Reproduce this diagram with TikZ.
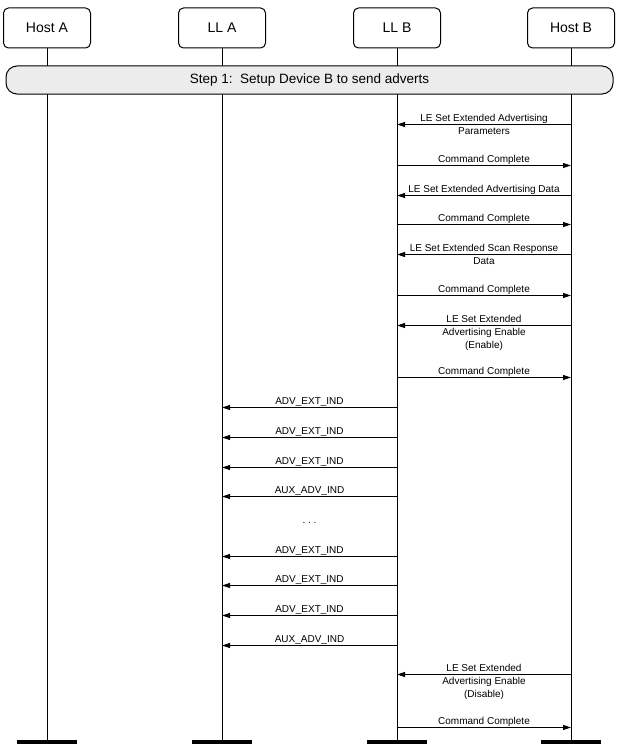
\documentclass[tikz,border=0pt]{standalone}
\usepackage{fontspec}
\setmainfont{Liberation Sans}
\usetikzlibrary{arrows.meta}
\begin{document}
\begin{tikzpicture}[x=1pt,y=-1pt,
  actor/.style={draw, line width=1pt, rounded corners=5pt, minimum width=87pt, minimum height=40pt, inner sep=0pt, font=\fontsize{14}{16}\selectfont},
  life/.style={line width=1pt},
  endbar/.style={line width=4pt},
  stepbox/.style={draw, line width=1pt, fill=gray!15, rounded corners=11pt, minimum width=607pt, minimum height=28pt, inner sep=0pt, font=\fontsize{13.5}{16}\selectfont},
  msg/.style={line width=1pt, -{Triangle[length=8pt,width=5pt]}},
  lbl/.style={font=\fontsize{10}{12.8}\selectfont, align=center, inner sep=0pt, anchor=north, yshift=10.8pt}]
\useasboundingbox (0,0) rectangle (619,752);
% actors
\node[actor] (ha) at (47,28) {Host A};
\node[actor] (lla) at (222,28) {LL A};
\node[actor] (llb) at (397,28) {LL B};
\node[actor] (hb) at (571,28) {Host B};
% lifeline ends
\coordinate (haE) at (47,742);
\coordinate (llaE) at (222,742);
\coordinate (llbE) at (397,742);
\coordinate (hbE) at (571,742);
\foreach \n in {ha,lla,llb,hb}{
  \draw[life] (\n.south) -- (\n E);
  \draw[endbar] ([xshift=-30pt]\n E) -- ([xshift=30pt]\n E);
}
% step box
\node[stepbox] (step) at (309.5,80) {Step 1:\ \ Setup Device B to send adverts};
% messages
\newcommand\toLLB[3]{%
  \coordinate (#1s) at (571,#2);
  \coordinate (#1t) at (397,#2);
  \draw[msg] (#1s) -- (#1t) node[lbl, midway] {#3};}
\newcommand\toHB[3]{%
  \coordinate (#1s) at (397,#2);
  \coordinate (#1t) at (571,#2);
  \draw[msg] (#1s) -- (#1t) node[lbl, midway] {#3};}
\newcommand\toLLA[3]{%
  \coordinate (#1s) at (397,#2);
  \coordinate (#1t) at (222,#2);
  \draw[msg] (#1s) -- (#1t) node[lbl, midway] {#3};}
\toLLB{m1}{124.5}{LE Set Extended Advertising\\Parameters}
\toHB{m2}{165.5}{Command Complete}
\toLLB{m3}{195.5}{LE Set Extended Advertising Data}
\toHB{m4}{224.5}{Command Complete}
\toLLB{m5}{254.5}{LE Set Extended Scan Response\\Data}
\toHB{m6}{295.5}{Command Complete}
\toLLB{m7}{325.5}{LE Set Extended\\Advertising Enable\\(Enable)}
\toHB{m8}{377.5}{Command Complete}
\toLLA{m9}{407.5}{ADV\_EXT\_IND}
\toLLA{m10}{437.5}{ADV\_EXT\_IND}
\toLLA{m11}{467.5}{ADV\_EXT\_IND}
\toLLA{m12}{496.5}{AUX\_ADV\_IND}
\node[font=\fontsize{10}{12}\selectfont, inner sep=0pt, anchor=base] (dots) at (309.5,523.5) {.\ .\ .};
\toLLA{m13}{556.5}{ADV\_EXT\_IND}
\toLLA{m14}{585.5}{ADV\_EXT\_IND}
\toLLA{m15}{615.5}{ADV\_EXT\_IND}
\toLLA{m16}{645.5}{AUX\_ADV\_IND}
\toLLB{m17}{674.5}{LE Set Extended\\Advertising Enable\\(Disable)}
\toHB{m18}{727.5}{Command Complete}
\end{tikzpicture}
\end{document}
